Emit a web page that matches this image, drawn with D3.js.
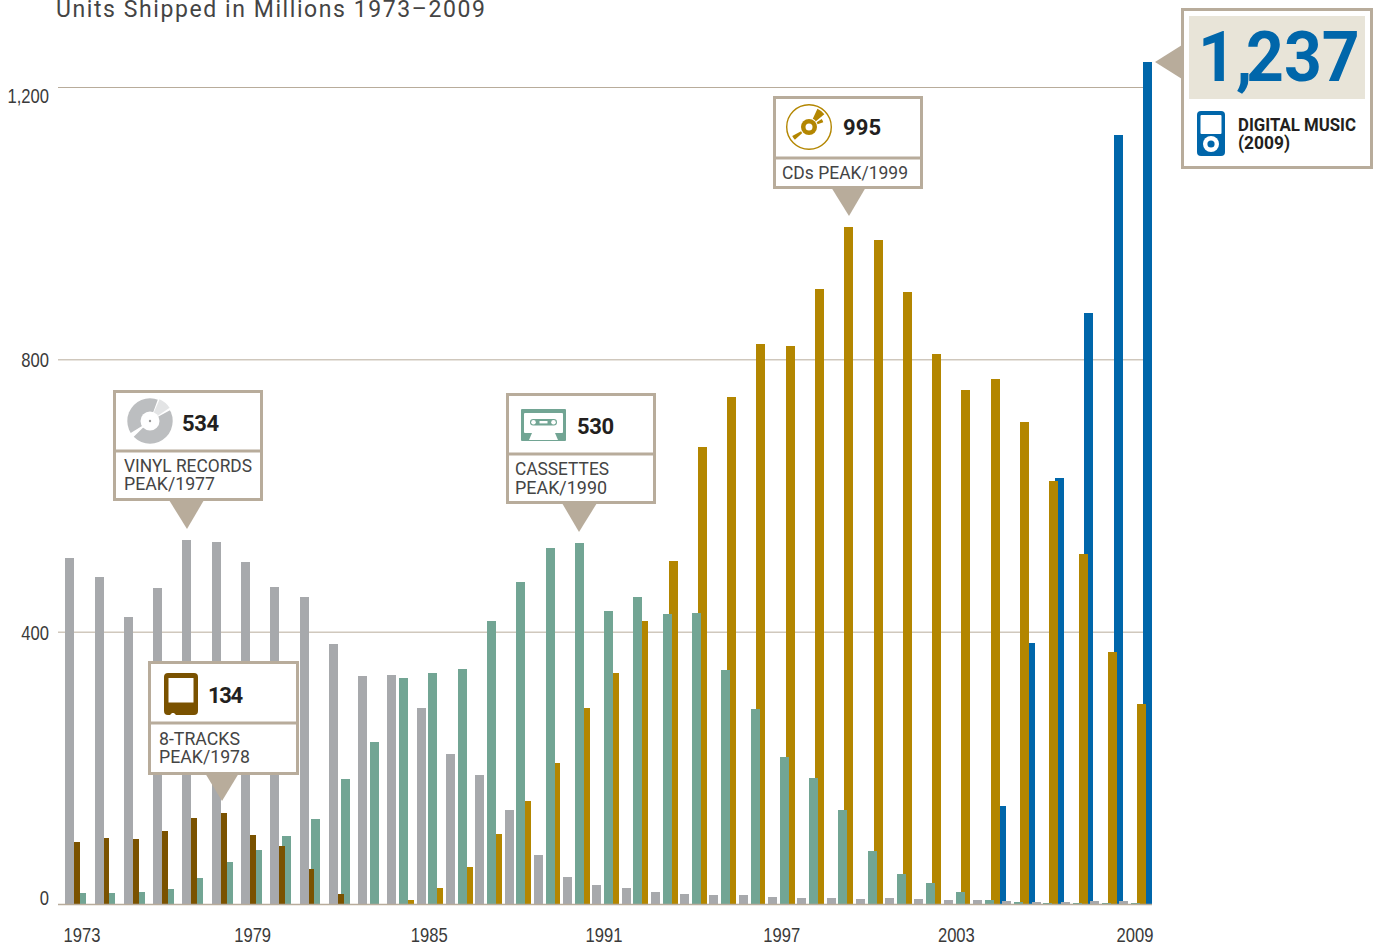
<!DOCTYPE html>
<html><head><meta charset="utf-8">
<script src="https://cdnjs.cloudflare.com/ajax/libs/d3/7.8.5/d3.min.js"></script>
<style>html,body{margin:0;padding:0;background:#fff;overflow:hidden}svg{display:block}</style>
</head><body><svg id="c" width="1377" height="946"></svg>
<script>
const years = d3.range(1973, 2010);
const yTicks = [0, 400, 800, 1200];
const xTicks = [1973, 1979, 1985, 1991, 1997, 2003, 2009];
const title = "Units Shipped in Millions 1973–2009";
const seriesNames = ["vinyl", "eightTrack", "cassette", "cd", "digital"];
const vinyl = [508,480,421,464,534,531,502,465,451,382,335,336,288,220,189,138,72,40,28,24,18,15,13,13,10,9,9,7,9,7,6,6,5,3,3,5,5];
const eightTrack = [91,97,95,107,127,134,102,85,51,15,0,0,0,0,0,0,0,0,0,0,0,0,0,0,0,0,0,0,0,0,0,0,0,0,0,0,0];
const cassette = [16,16,18,22,38,62,79,100,125,183,238,332,339,345,415,473,523,530,430,451,426,427,344,286,216,185,138,78,44,31,18,6,3,2,1,1,1];
const cd = [0,0,0,0,0,0,0,0,0,0,0,6,23,54,103,151,207,288,339,415,504,671,744,822,819,903,995,976,899,808,755,771,708,621,514,370,294];
const digital = [0,0,0,0,0,0,0,0,0,0,0,0,0,0,0,0,0,0,0,0,0,0,0,0,0,0,0,0,0,0,0,144,383,626,868,1129,1237];
const seriesValues = {vinyl, eightTrack, cassette, cd, digital};
const seriesColors = {vinyl:"#a7a9ac", eightTrack:"#7a5200", cassette:"#72a594", cd:"#b38600", digital:"#0066aa"};

const TAN = "#b8ac9b", INK = "#3a3a3a", DARK = "#231f20", BODY = "Roboto, 'Noto Sans', sans-serif", NARROW = "'Liberation Sans', sans-serif";
const svg = d3.select("#c");
const x = d3.scaleBand().domain(years).range([65.3, 65.3 + 29.28 * years.length]);
const offset = d3.scalePoint().domain(seriesNames).range([0, 23.6]);
const y = d3.scaleLinear().domain([0, 1200]).range([904, 87]);
const barW = 9;

svg.append("text").attr("x", 56).attr("y", 17).text(title)
  .attr("font-family", BODY).attr("font-size", 23).attr("fill", "#444")
  .attr("textLength", 429).attr("lengthAdjust", "spacing");

// grid
svg.append("g").selectAll("line").data(yTicks.filter(d => d > 0)).join("line")
  .attr("x1", 58).attr("x2", 1152).attr("y1", d => y(d) + .5).attr("y2", d => y(d) + .5)
  .attr("stroke", TAN).attr("stroke-width", 1);

// bars: leftmost series sits on top
[...seriesNames].reverse().forEach(name => {
  svg.append("g").attr("shape-rendering", "crispEdges").selectAll("rect")
    .data(years.map((yr, i) => ({yr, v: seriesValues[name][i]})).filter(d => d.v > 0)).join("rect")
    .attr("x", d => x(d.yr) + offset(name)).attr("width", barW)
    .attr("y", d => y(d.v)).attr("height", d => y(0) - y(d.v))
    .attr("fill", seriesColors[name]);
});
svg.append("line").attr("x1", 58).attr("x2", 1152).attr("y1", 904.5).attr("y2", 904.5).attr("stroke", TAN).attr("stroke-width", 1.5);

// axes: the labels are condensed horizontally
const squeeze = .83;
const yAxis = svg.append("g").attr("transform", "translate(49,0)")
  .call(d3.axisLeft(y).tickValues(yTicks).tickSize(0).tickPadding(0).tickFormat(d3.format(",")));
const xAxis = svg.append("g").attr("transform", "translate(0,924)")
  .call(d3.axisBottom(x).tickValues(xTicks).tickSize(0).tickPadding(0));
yAxis.select(".domain").remove(); xAxis.select(".domain").remove();
const yNudge = {0: -7, 400: .5, 800: 0, 1200: 8};
const xNudge = {1973: 2, 1979: -3, 1985: -2, 1991: -3, 1997: -1, 2003: -2, 2009: 1};
yAxis.selectAll(".tick text").attr("dy", d => 7 + yNudge[d]);
xAxis.selectAll(".tick text").attr("dx", d => xNudge[d] / squeeze).attr("dy", 18);
svg.selectAll(".tick text").attr("font-family", NARROW).attr("font-size", 20).attr("fill", INK)
  .attr("transform", `scale(${squeeze},1)`);

function callout(o) {
  const g = svg.append("g");
  g.append("path").attr("d", d3.line()(o.tri)).attr("fill", TAN);
  g.append("rect").attr("x", o.x0 + 1.5).attr("y", o.y0 + 1.5).attr("width", o.x1 - o.x0 - 3).attr("height", o.y1 - o.y0 - 3)
    .attr("fill", "#fff").attr("stroke", TAN).attr("stroke-width", 3);
  g.append("line").attr("x1", o.x0).attr("x2", o.x1).attr("y1", o.div).attr("y2", o.div).attr("stroke", TAN).attr("stroke-width", 3);
  g.append("text").attr("x", o.numX).attr("y", o.numY).text(o.num)
    .attr("font-family", BODY).attr("font-weight", 700).attr("font-size", 22).attr("fill", DARK).attr("textLength", o.numW);
  o.lines.forEach(l => g.append("text").attr("x", l.x).attr("y", l.y).text(l.t)
    .attr("font-family", BODY).attr("font-size", 18).attr("fill", "#444").attr("textLength", l.w).attr("lengthAdjust", "spacingAndGlyphs"));
  return g;
}
const wedge = d3.arc();
function disc(g, cx, cy, r, col, kind) {
  const d = g.append("g").attr("transform", `translate(${cx},${cy})`);
  const sect = (a0, a1, i, o, c) => d.append("path").attr("fill", c)
    .attr("d", wedge({innerRadius: i, outerRadius: o, startAngle: a0 * Math.PI / 180, endAngle: a1 * Math.PI / 180}));
  if (kind === "vinyl") {
    d.append("circle").attr("r", r).attr("fill", col);
    sect(22, 58, 8, r + 1, "#e3e4e5"); sect(20, 24, 8, r + 1, "#fff"); sect(56, 62, 8, r + 1, "#fff");
    sect(226, 238, 8, r + 1, "#fff");
    d.append("circle").attr("r", 9.5).attr("fill", "#fff");
    d.append("circle").attr("r", 1.2).attr("fill", "#999");
  } else {
    d.append("circle").attr("r", r - .7).attr("fill", "#fff").attr("stroke", col).attr("stroke-width", 1.4);
    sect(25, 50, 9, r - 3, col); sect(58, 72, 9, r - 8, col); sect(228, 242, 9, r - 4, col);
    d.append("circle").attr("r", 8).attr("fill", col);
    d.append("circle").attr("r", 3.5).attr("fill", "#fff");
  }
}

// vinyl
const gV = callout({x0:113,x1:263,y0:390,y1:501,div:451,tri:[[169,500],[204,500],[187,529]],num:"534",numX:182,numY:431,numW:37,
  lines:[{t:"VINYL RECORDS",x:124,y:472,w:128},{t:"PEAK/1977",x:124,y:490,w:91}]});
disc(gV, 150, 421, 22.7, "#bcbec0", "vinyl");

// cassette
const gC = callout({x0:506,x1:656,y0:393,y1:504,div:454,tri:[[562,503],[597,503],[579,532]],num:"530",numX:577,numY:434,numW:37,
  lines:[{t:"CASSETTES",x:515,y:475,w:94},{t:"PEAK/1990",x:515,y:494,w:92}]});
const cas = gC.append("g").attr("transform", "translate(521,409)");
cas.append("rect").attr("width", 45).attr("height", 32).attr("rx", 1).attr("fill", seriesColors.cassette);
cas.append("rect").attr("x", 3).attr("y", 4).attr("width", 39).attr("height", 20).attr("rx", 1).attr("fill", "#fff");
cas.append("rect").attr("x", 9).attr("y", 10).attr("width", 27).attr("height", 6.5).attr("rx", 3.2).attr("fill", seriesColors.cassette);
cas.append("circle").attr("cx", 12.5).attr("cy", 13.2).attr("r", 2.3).attr("fill", "#fff");
cas.append("circle").attr("cx", 32.5).attr("cy", 13.2).attr("r", 2.3).attr("fill", "#fff");
cas.append("rect").attr("x", 18.5).attr("y", 12).attr("width", 8).attr("height", 2.4).attr("fill", "#fff");
cas.append("path").attr("d", "M8 31 L11 24 H34 L37 31 Z").attr("fill", "#fff");

// 8-track
const gE = callout({x0:148,x1:299,y0:661,y1:775,div:723,tri:[[205,773],[239,773],[222,801]],num:"134",numX:208,numY:703,numW:35,
  lines:[{t:"8-TRACKS",x:159,y:745,w:81},{t:"PEAK/1978",x:159,y:763,w:91}]});
const et = gE.append("g").attr("transform", "translate(164,673)");
et.append("path").attr("fill", seriesColors.eightTrack)
  .attr("d", "M4 0 H30 Q34 0 34 4 V38 Q34 42 30 42 H12 L10 40 H8 L6 42 H4 Q0 42 0 38 V4 Q0 0 4 0 Z");
et.append("rect").attr("x", 4.5).attr("y", 5).attr("width", 25).attr("height", 24.5).attr("fill", "#fff");

// CD
const gD = callout({x0:773,x1:923,y0:96,y1:189,div:158,tri:[[831,187],[866,187],[849,216]],num:"995",numX:843,numY:135,numW:38,
  lines:[{t:"CDs PEAK/1999",x:782,y:179,w:126}]});
disc(gD, 809, 127, 23, seriesColors.cd, "cd");

// digital
const gM = svg.append("g");
gM.append("path").attr("d", d3.line()([[1155,62],[1182,45],[1182,79]])).attr("fill", TAN);
gM.append("rect").attr("x", 1182.5).attr("y", 9.5).attr("width", 189).attr("height", 158).attr("fill", "#fff").attr("stroke", TAN).attr("stroke-width", 3);
gM.append("rect").attr("x", 1189).attr("y", 16).attr("width", 176).attr("height", 83).attr("fill", "#e8e4d8");
gM.append("text").attr("transform", "translate(1198,81) scale(.93,1)").attr("dx", "0 0 -6.5 0 0").text("1,237")
  .attr("font-family", BODY).attr("font-weight", 700).attr("font-size", 71).attr("fill", seriesColors.digital);
const ip = gM.append("g").attr("transform", "translate(1197,111)");
ip.append("rect").attr("width", 28).attr("height", 45).attr("rx", 4).attr("fill", seriesColors.digital);
ip.append("rect").attr("x", 3.5).attr("y", 4).attr("width", 21).attr("height", 19).attr("rx", 1).attr("fill", "#fff");
ip.append("circle").attr("cx", 14).attr("cy", 33).attr("r", 8).attr("fill", "#fff");
ip.append("circle").attr("cx", 14).attr("cy", 33).attr("r", 3.6).attr("fill", seriesColors.digital);
[["DIGITAL MUSIC",131,118],["(2009)",149,52]].forEach(([t, yy, w]) => gM.append("text").attr("x", 1238).attr("y", yy).text(t)
  .attr("font-family", BODY).attr("font-weight", 700).attr("font-size", 17.5).attr("fill", DARK).attr("textLength", w).attr("lengthAdjust", "spacingAndGlyphs"));
</script></body></html>
